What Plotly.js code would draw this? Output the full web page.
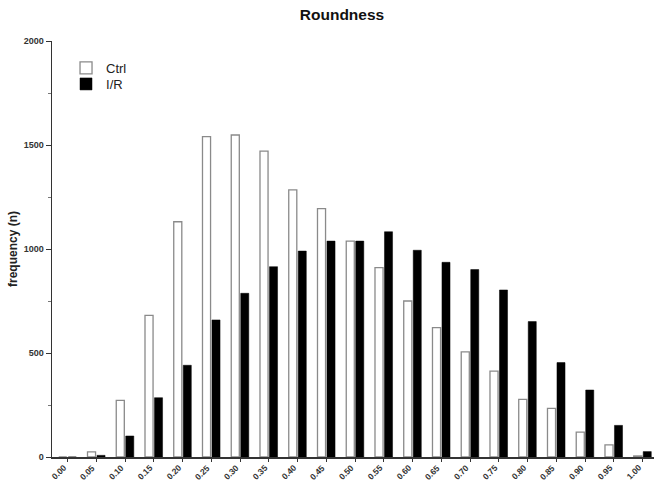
<!DOCTYPE html>
<html>
<head>
<meta charset="utf-8">
<script src="https://cdn.plot.ly/plotly-3.0.1.min.js"></script>
<style>html,body{margin:0;padding:0;background:#fff;}#chart{width:654px;height:481px;}</style>
</head>
<body>
<div id="chart"></div>
<script>
var categories = ["0.00","0.05","0.10","0.15","0.20","0.25","0.30","0.35","0.40","0.45","0.50","0.55","0.60","0.65","0.70","0.75","0.80","0.85","0.90","0.95","1.00"];
var ctrlValues = [0, 25, 272, 681, 1131, 1540, 1548, 1471, 1284, 1194, 1038, 910, 750, 622, 505, 413, 277, 234, 120, 58, 5];
var irValues   = [0, 8, 101, 285, 441, 659, 787, 915, 990, 1038, 1038, 1083, 994, 936, 901, 803, 651, 454, 322, 152, 26];
var yTicks = [0, 500, 1000, 1500, 2000];

var fam = 'Liberation Sans, Arial, sans-serif';
var tickFont = {family: fam, size: 9, color: '#333', weight: 'bold'};
var xLabelFont = {family: fam, size: 8.5, color: '#333', weight: 'bold'};
var legendFont = {family: fam, size: 13, color: '#222'};

var traces = [
  {type: 'bar', name: 'Ctrl', x: categories, y: ctrlValues, legend: 'legend',
   marker: {color: '#ffffff', line: {color: '#8a8a8a', width: 1.3}}},
  {type: 'bar', name: 'I/R', x: categories, y: irValues, legend: 'legend2',
   marker: {color: '#000000', line: {color: '#000000', width: 0.5}}}
];

// x tick labels as rotated annotations at each category's position on the x axis (category index)
var xLabels = categories.map(function (c, i) {
  return {x: i, xref: 'x', y: 0, yref: 'paper', text: c, showarrow: false, textangle: -45,
          xanchor: 'right', yanchor: 'top', xshift: 4, yshift: -3, font: xLabelFont};
});

var layout = {
  width: 654, height: 481,
  margin: {l: 52, r: 0, t: 41, b: 24},
  paper_bgcolor: '#fff', plot_bgcolor: '#fff',
  barmode: 'group', bargap: 0.34, bargroupgap: 0.15,
  showlegend: true,
  title: {text: 'Roundness', x: 342/654, xref: 'container', xanchor: 'center', y: 1 - 15/481, yref: 'container', yanchor: 'middle',
          font: {family: fam, size: 15.5, color: '#111', weight: 'bold'}},
  legend: {x: 0.0233, y: 1 - 27/416, xanchor: 'left', yanchor: 'middle', bgcolor: 'rgba(0,0,0,0)', font: legendFont, itemwidth: 30},
  legend2: {x: 0.0233, y: 1 - 43/416, xanchor: 'left', yanchor: 'middle', bgcolor: 'rgba(0,0,0,0)', font: legendFont, itemwidth: 30},
  xaxis: {type: 'category', range: [-0.54, 20.4], showticklabels: false,
          showline: true, linecolor: '#333', linewidth: 1.5, ticks: 'outside', ticklen: 3, tickcolor: '#333', tickwidth: 1,
          showgrid: false, zeroline: false, fixedrange: true},
  yaxis: {range: [0, 2000], tickvals: yTicks, ticktext: yTicks.map(String), tickfont: tickFont,
          showline: true, linecolor: '#333', linewidth: 1.5, ticks: 'outside', ticklen: 5, tickcolor: '#333', tickwidth: 1,
          minor: {dtick: 250, tick0: 0, ticks: 'outside', ticklen: 3, tickcolor: '#777', showgrid: false},
          showgrid: false, zeroline: false, fixedrange: true,
          title: {text: 'frequency (n)', standoff: 3, font: {family: fam, size: 12, color: '#222', weight: 'bold'}}},
  annotations: xLabels
};

Plotly.newPlot('chart', traces, layout, {displayModeBar: false, staticPlot: true});
</script>
</body>
</html>
